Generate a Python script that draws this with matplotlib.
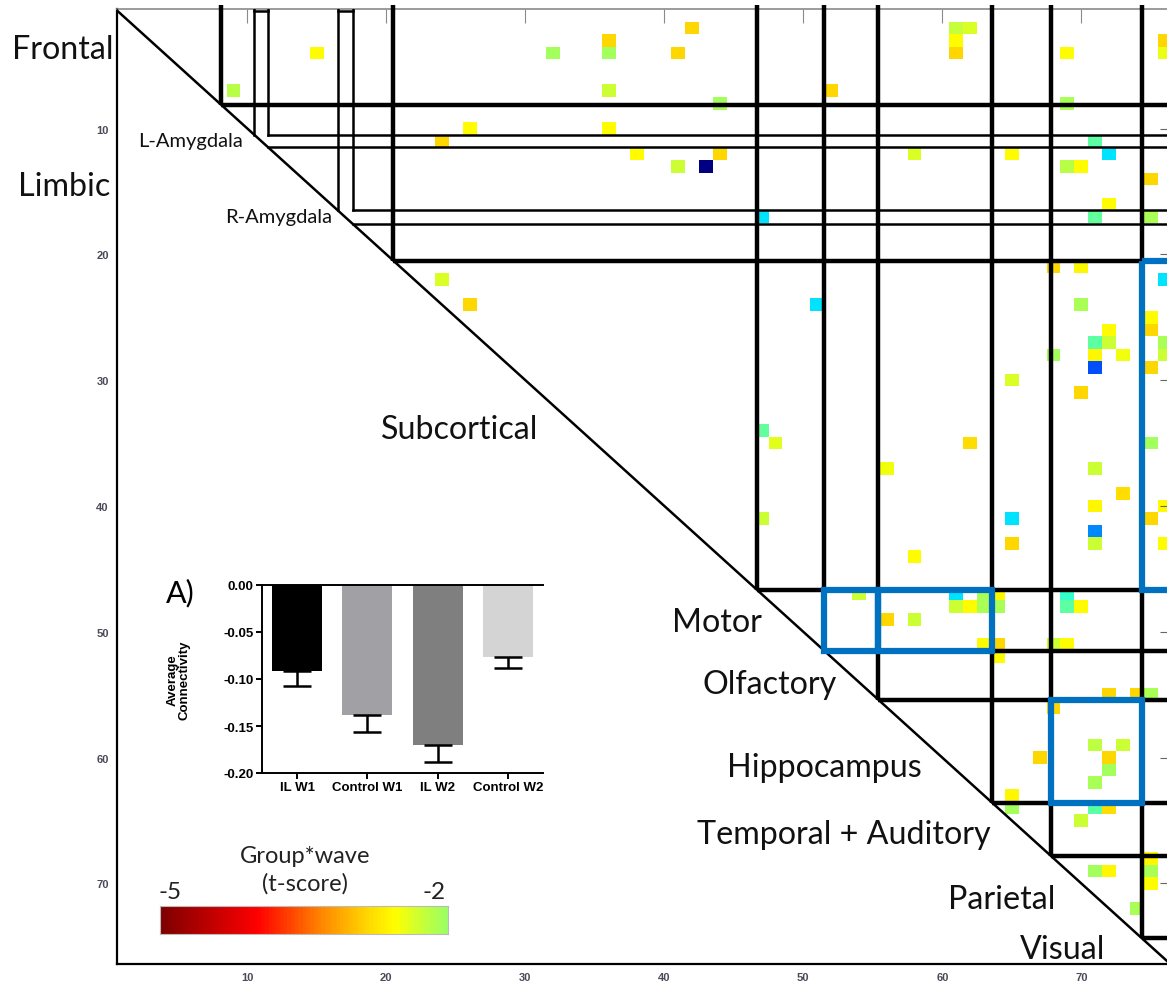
import numpy as np
import matplotlib.pyplot as plt
from matplotlib.colors import LinearSegmentedColormap, Normalize
from matplotlib.patches import Rectangle

W, H = 1167, 987
OUT = "out.png"

# module boundaries along the matrix diagonal (matrix index units)
module_names = ["Frontal", "Limbic", "Subcortical", "Motor", "Olfactory",
                "Hippocampus", "Temporal + Auditory", "Parietal", "Visual"]
module_edges = [0, 7.6, 20.0, 46.2, 51.0, 54.9, 63.1, 67.3, 73.85, 82.0]
amygdala_strips = [(10.0, 11.0), (16.0, 17.1)]

# highlighted blocks: (row module, column module)
highlight_pairs = [("Motor", "Olfactory"), ("Motor", "Hippocampus"),
                   ("Hippocampus", "Parietal"), ("Subcortical", "Visual")]

# significant group*wave cells: row, column, t-score
cell_rows = [1, 1, 1, 2, 2, 2, 3, 3, 3, 3, 3, 3, 3,
             6, 6, 6, 7, 7,
             9, 9, 10, 10, 11, 11, 11, 11, 11, 12, 12, 12, 12, 13, 15, 16, 16, 16,
             20, 20, 21, 21, 23, 23, 23, 24, 25, 25, 26, 26, 26, 27, 27, 27, 27,
             28, 28, 29, 30, 33, 34, 34, 34, 36, 36, 38, 39, 39, 40, 40, 40,
             41, 42, 42, 42, 43,
             46, 46, 46, 46, 46, 47, 47, 47, 47, 47, 47, 48, 48, 50, 50, 50, 50,
             51, 54, 54, 54,
             55, 58, 58, 59, 59, 60, 61, 62, 63, 63, 63,
             64, 67, 68, 68, 68, 69, 71]
cell_cols = [41, 60, 61, 35, 60, 75, 14, 31, 35, 40, 60, 68, 75,
             8, 35, 51, 43, 68,
             25, 35, 23, 70, 37, 43, 57, 64, 71, 40, 42, 68, 69, 74, 71, 46, 70, 74,
             67, 69, 23, 75, 25, 50, 69, 74, 71, 74, 70, 71, 75, 67, 70, 72, 75,
             70, 74, 64, 69, 46, 47, 61, 74, 55, 70, 72, 70, 75, 46, 64, 74,
             70, 64, 70, 75, 57,
             53, 60, 62, 63, 68, 60, 61, 62, 63, 68, 69, 55, 57, 62, 63, 67, 68,
             63, 71, 73, 74,
             67, 70, 72, 66, 71, 71, 70, 64, 64, 70, 71,
             69, 74, 70, 71, 74, 74, 73]
cell_t = [-2.85, -2.25, -2.35, -2.85, -2.55, -2.85, -2.55, -2.05, -2.05, -2.85, -2.85, -2.55, -2.45,
          -2.15, -2.3, -2.85, -2.05, -2.1,
          -2.55, -2.55, -2.85, 2.05, -2.55, -2.85, -2.35, -2.55, 2.6, -2.3, 5.0, -2.15, -2.55, -2.85,
          -2.55, 2.6, 2.0, -2.1,
          -2.85, -2.6, -2.35, 2.6, -2.85, 2.6, -2.1, -2.55, -2.55, -2.85, 2.05, -2.3, -2.1, -2.05,
          -2.6, -2.5, -2.3,
          3.6, -2.85, -2.35, -2.85, 2.0, -2.4, -2.8, -2.05, -2.5, -2.3, -2.8, -2.6, -2.55, -2.3,
          2.6, -2.85,
          3.2, -2.85, -2.3, -2.55, -2.55,
          -2.3, 2.6, -2.1, -2.6, 2.3, -2.3, -2.55, -2.1, -2.1, 2.05, -2.55, -2.85, -2.3, -2.55,
          -2.85, -2.3, -2.55,
          -2.55, -2.85, -2.85, -2.1,
          -2.85, -2.2, -2.3, -2.85, -2.85, -2.05, -2.1, -2.6, -2.05, 2.05, -2.8,
          -2.3, -2.6, -2.05, -2.6, -2.1, -2.55, -2.1]

# colour scale (t-score)
t_stops = [-5.0, -4.0, -3.3, -2.85, -2.55, -2.3, -2.0, 0.0, 2.0, 2.3, 2.6, 3.2, 3.6, 5.0]
t_colors = ["#7f0000", "#ff0000", "#ff8c00", "#ffd700", "#ffff00", "#ccff33", "#99ff66",
            "#80ff80", "#66ff99", "#33ffcc", "#00e5ff", "#0088ff", "#0050ff", "#000080"]

# inset: average connectivity
groups = ["IL W1", "Control W1", "IL W2", "Control W2"]
means = [-0.092, -0.138, -0.170, -0.077]
sems = [0.015, 0.018, 0.018, 0.011]
bar_colors = ["#000000", "#a0a0a5", "#7f7f7f", "#d4d4d4"]

# axis ticks
y_tick_labels = [10, 20, 30, 40, 50, 60, 70]
x_tick_labels = [10, 20, 30, 40, 50, 60, 70]

INK = "#111111"
BOX = "#0070c0"
TICK_INK = "#4a4a58"


def fx(px):
    return px / W


def fy(py):
    return 1 - py / H


def main():
    plt.rcParams["font.family"] = ["Lato", "DejaVu Sans"]
    fig = plt.figure(figsize=(W / 100, H / 100), dpi=100)
    ax = fig.add_axes([fx(117), fy(965), fx(1171) - fx(117), fy(10) - fy(965)])
    ax.set_xlim(0.12, 75.95)
    ax.set_ylim(75.9, 0)

    nodes = [(t - t_stops[0]) / (t_stops[-1] - t_stops[0]) for t in t_stops]
    cmap = LinearSegmentedColormap.from_list("tscore", list(zip(nodes, t_colors)))
    cmap.set_bad((1, 1, 1, 0))
    norm = Normalize(t_stops[0], t_stops[-1])

    mat = np.full((78, 78), np.nan)
    for r, c, t in zip(cell_rows, cell_cols, cell_t):
        mat[r, c] = t
    ax.imshow(mat, cmap=cmap, norm=norm, extent=(0, 78, 78, 0),
              interpolation="nearest", aspect="auto", zorder=1)

    # module grid
    end = module_edges[-1]
    for b in module_edges[1:-1]:
        ax.plot([b, b], [-0.3, b], color="k", lw=3.2, solid_capstyle="butt",
                clip_on=False, zorder=3)
        ax.plot([b, end], [b, b], color="k", lw=3.2, solid_capstyle="butt", zorder=3)
    for a, b in amygdala_strips:
        ax.plot([a, a], [0, a], color="k", lw=1.8, zorder=3)
        ax.plot([b, b], [0, a], color="k", lw=1.8, zorder=3)
        ax.plot([b, end], [a, a], color="k", lw=1.8, zorder=3)
        ax.plot([b, end], [b, b], color="k", lw=1.8, zorder=3)
        ax.plot([a, b], [0.15, 0.15], color="k", lw=1.8, zorder=3)
    ax.plot([0, 80], [0, 80], color="k", lw=1.8, zorder=3)

    # highlighted blocks
    for rm, cm in highlight_pairs:
        i, j = module_names.index(rm), module_names.index(cm)
        r0, r1 = module_edges[i], module_edges[i + 1]
        c0, c1 = module_edges[j], module_edges[j + 1]
        ax.add_patch(Rectangle((c0, r0), c1 - c0, r1 - r0, fill=False,
                               ec=BOX, lw=4.5, zorder=4))

    for s in ["left", "bottom"]:
        ax.spines[s].set_color("k")
        ax.spines[s].set_linewidth(1.6)
    ax.spines["top"].set_color("#8a8a8a")
    ax.spines["top"].set_linewidth(1.2)
    ax.spines["right"].set_visible(False)

    ax.set_yticks([v - 0.5 for v in y_tick_labels])
    ax.set_yticklabels([str(v) for v in y_tick_labels])
    ax.set_xticks([v - 0.5 for v in x_tick_labels])
    ax.set_xticklabels([str(v) for v in x_tick_labels])
    ax.tick_params(axis="y", left=False, right=True, direction="in", length=8,
                   color="#666666", labelsize=8, labelcolor=TICK_INK, pad=6)
    ax.tick_params(axis="x", bottom=False, top=True, direction="in", length=10,
                   color="#8a8a8a", labelsize=8, labelcolor=TICK_INK, pad=6)
    for lab in ax.get_xticklabels() + ax.get_yticklabels():
        lab.set_fontfamily("Liberation Sans")
        lab.set_fontweight("bold")

    # module labels
    big = 23.2
    small = 14.5
    labels = [("Frontal", 12, 50, big), ("Limbic", 18, 187, big),
              ("L-Amygdala", 138, 142, small), ("R-Amygdala", 225, 218, small),
              ("Subcortical", 381, 430, big), ("Motor", 672, 623, big),
              ("Olfactory", 703, 685, big), ("Hippocampus", 727, 768, big),
              ("Temporal + Auditory", 697, 835, big), ("Parietal", 948, 900, big),
              ("Visual", 1020, 950, big)]
    for text, x, y, size in labels:
        fig.text(fx(x), fy(y), text, ha="left", va="center", fontsize=size, color=INK)

    # colour bar for the negative t-scores
    cax = fig.add_axes([fx(160), fy(935), fx(448) - fx(160), fy(907) - fy(935)])
    grad = np.linspace(-5, -2, 256)[None, :]
    cax.imshow(grad, cmap=cmap, norm=norm, aspect="auto", extent=(-5, -2, 0, 1))
    cax.set_xticks([])
    cax.set_yticks([])
    for s in cax.spines.values():
        s.set_color("#bbbbbb")
        s.set_linewidth(0.8)
    fig.text(fx(305), fy(857), "Group*wave", ha="center", va="center", fontsize=17, color="#222222")
    fig.text(fx(305), fy(884), "(t-score)", ha="center", va="center", fontsize=17, color="#222222")
    fig.text(fx(170), fy(893), "-5", ha="center", va="center", fontsize=17.5, color="#222222")
    fig.text(fx(434), fy(893), "-2", ha="center", va="center", fontsize=17.5, color="#222222")

    # inset bar chart
    bx = fig.add_axes([fx(262), fy(774), fx(543) - fx(262), fy(586) - fy(774)])
    xs = np.arange(len(groups))
    bx.bar(xs, means, width=0.71, color=bar_colors, zorder=2)
    bx.errorbar(xs, means, yerr=[sems, [0] * len(sems)], fmt="none", ecolor="k",
                elinewidth=1.8, capsize=10, capthick=1.8, zorder=3)
    bx.set_xlim(-0.5, 3.5)
    bx.set_ylim(-0.2, 0)
    bx.set_yticks([0, -0.05, -0.10, -0.15, -0.20])
    bx.set_yticklabels(["0.00", "-0.05", "-0.10", "-0.15", "-0.20"])
    bx.set_xticks(xs)
    bx.set_xticklabels(groups)
    bx.spines["right"].set_visible(False)
    for s in ["left", "top", "bottom"]:
        bx.spines[s].set_linewidth(1.4)
    bx.tick_params(length=4, width=1.4, labelsize=9.5, pad=2)
    for lab in bx.get_xticklabels() + bx.get_yticklabels():
        lab.set_fontfamily("Liberation Sans")
        lab.set_fontweight("bold")
    bx.set_ylabel("Average\nConnectivity", fontsize=9.5, fontweight="bold",
                  family="Liberation Sans", linespacing=0.95, labelpad=24)
    fig.text(fx(180), fy(593), "A)", ha="center", va="center", fontsize=22, color="k")

    fig.savefig(OUT, dpi=100)
    plt.close(fig)


if __name__ == "__main__":
    main()
